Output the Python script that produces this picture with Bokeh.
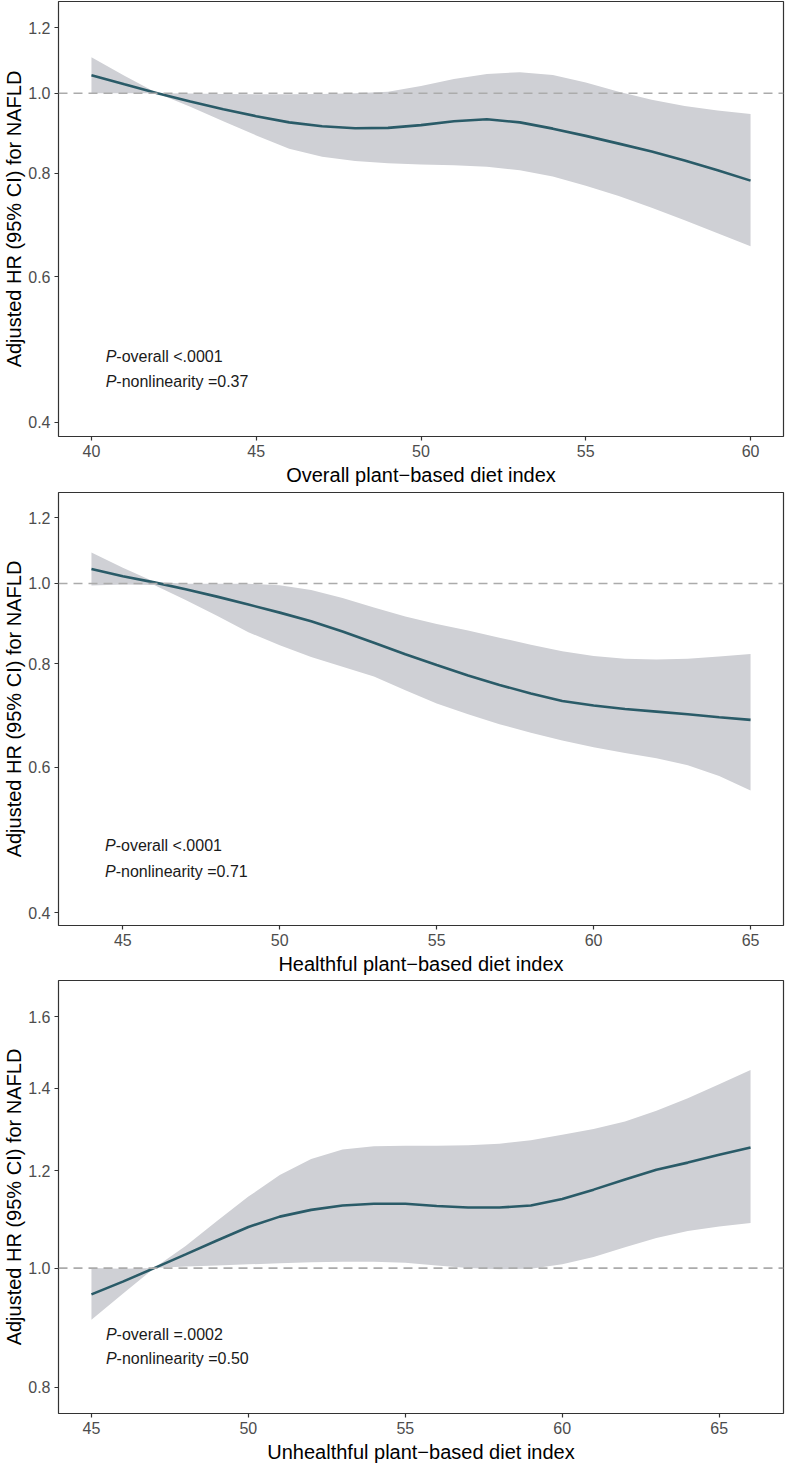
from bokeh.plotting import figure
from bokeh.models import Range1d, FixedTicker, PrintfTickFormatter, Span, ColumnDataSource
from bokeh.layouts import column
from bokeh.embed import file_html
from bokeh.resources import INLINE
from bokeh.core.properties import value

# ---------------- data ----------------
# Panel 1: Overall plant-based diet index
x_pdi = [40, 41, 42, 43, 44, 45, 46, 47, 48, 49, 50, 51, 52, 53, 54, 55, 56, 57, 58, 59, 60]
hr_pdi = [1.051, 1.025, 1.000, 0.977, 0.956, 0.938, 0.922, 0.912, 0.907, 0.908, 0.915,
          0.925, 0.930, 0.922, 0.906, 0.888, 0.869, 0.850, 0.829, 0.807, 0.784]
lo_pdi = [1.000, 1.000, 1.000, 0.963, 0.925, 0.889, 0.857, 0.838, 0.828, 0.823, 0.820,
          0.818, 0.815, 0.807, 0.793, 0.773, 0.751, 0.727, 0.702, 0.677, 0.653]
hi_pdi = [1.105, 1.050, 1.000, 0.999, 0.998, 0.997, 0.997, 0.998, 1.000, 1.004, 1.020,
          1.040, 1.055, 1.060, 1.052, 1.030, 1.004, 0.982, 0.965, 0.953, 0.944]

# Panel 2: Healthful plant-based diet index
x_hpdi = [44, 45, 46, 47, 48, 49, 50, 51, 52, 53, 54, 55, 56, 57, 58, 59, 60, 61, 62, 63, 64, 65]
hr_hpdi = [1.041, 1.020, 1.003, 0.984, 0.964, 0.943, 0.922, 0.900, 0.875, 0.848, 0.821,
           0.797, 0.774, 0.754, 0.736, 0.721, 0.712, 0.705, 0.700, 0.695, 0.689, 0.684]
lo_hpdi = [0.994, 0.997, 0.996, 0.955, 0.914, 0.873, 0.842, 0.815, 0.793, 0.772, 0.743,
           0.716, 0.695, 0.676, 0.660, 0.646, 0.634, 0.624, 0.615, 0.603, 0.585, 0.562]
hi_hpdi = [1.090, 1.045, 1.005, 0.999, 0.999, 0.999, 0.995, 0.982, 0.960, 0.935, 0.912,
           0.893, 0.877, 0.860, 0.843, 0.828, 0.817, 0.811, 0.809, 0.811, 0.816, 0.822]

# Panel 3: Unhealthful plant-based diet index
x_updi = [45, 46, 47, 48, 49, 50, 51, 52, 53, 54, 55, 56, 57, 58, 59, 60, 61, 62, 63, 64, 65, 66]
hr_updi = [0.952, 0.975, 1.000, 1.026, 1.053, 1.080, 1.101, 1.115, 1.124, 1.128, 1.128,
           1.123, 1.120, 1.120, 1.124, 1.138, 1.158, 1.180, 1.202, 1.218, 1.236, 1.253]
lo_updi = [0.908, 0.953, 1.000, 1.003, 1.005, 1.007, 1.009, 1.011, 1.012, 1.012, 1.010,
           1.005, 1.000, 0.998, 0.999, 1.007, 1.021, 1.040, 1.058, 1.072, 1.081, 1.088]
hi_updi = [1.000, 0.999, 1.000, 1.042, 1.092, 1.143, 1.190, 1.226, 1.248, 1.256, 1.257,
           1.257, 1.258, 1.262, 1.270, 1.283, 1.297, 1.315, 1.342, 1.374, 1.410, 1.448]

xticks_pdi = [40, 45, 50, 55, 60]
xticks_hpdi = [45, 50, 55, 60, 65]
xticks_updi = [45, 50, 55, 60, 65]
yticks_12 = [0.4, 0.6, 0.8, 1.0, 1.2]
yticks_3 = [0.8, 1.0, 1.2, 1.4, 1.6]

xlabels = ["Overall plant\u2212based diet index",
           "Healthful plant\u2212based diet index",
           "Unhealthful plant\u2212based diet index"]
ylabel = "Adjusted HR (95% CI) for NAFLD"
p_overall = ["-overall <.0001", "-overall <.0001", "-overall =.0002"]
p_nonlin = ["-nonlinearity =0.37", "-nonlinearity =0.71", "-nonlinearity =0.50"]

FONT = "Liberation Sans"
BAND = "#cfd0d5"
LINE = "#2a5b68"


def make_panel(x, hr, lo, hi, xr, yr, xticks, yticks, xlabel, pov, pnl, tx, ty1, ty2,
               height, btop, bbottom):
    p = figure(width=786, height=height, y_axis_type="log",
               x_range=Range1d(*xr), y_range=Range1d(*yr),
               output_backend="svg", toolbar_location=None,
               min_border_top=btop, min_border_bottom=bbottom,
               min_border_left=50, min_border_right=3)
    p.xgrid.visible = False
    p.ygrid.visible = False
    p.outline_line_color = "#333333"
    p.outline_line_width = 1.2
    p.background_fill_color = "white"
    p.border_fill_color = "white"

    src = ColumnDataSource(dict(x=x, hr=hr, lo=lo, hi=hi))
    p.varea(x="x", y1="lo", y2="hi", source=src, fill_color=BAND, fill_alpha=1.0)
    p.add_layout(Span(location=1.0, dimension="width", line_color="#ababab",
                      line_dash="9 6", line_width=1.6))
    p.line(x="x", y="hr", source=src, line_color=LINE, line_width=2.6)

    for yy, txt in ((ty1, pov), (ty2, pnl)):
        p.text(x=[tx], y=[yy], text=["P"], text_font=value(FONT), text_font_style="italic",
               text_font_size="16px", text_baseline="middle", text_color="#1a1a1a")
        p.text(x=[tx], y=[yy], text=[txt], x_offset=10.7, text_font=value(FONT),
               text_font_size="16px", text_baseline="middle", text_color="#1a1a1a")

    for ax in (p.xaxis[0], p.yaxis[0]):
        ax.axis_line_color = None
        ax.major_tick_line_color = "#333333"
        ax.major_tick_line_width = 1.2
        ax.major_tick_out = 4
        ax.major_tick_in = 0
        ax.minor_tick_line_color = None
        ax.major_label_text_font = FONT
        ax.major_label_text_font_size = "16px"
        ax.major_label_text_color = "#4d4d4d"
        ax.axis_label_text_font = FONT
        ax.axis_label_text_font_size = "20px"
        ax.axis_label_text_font_style = "normal"
        ax.axis_label_text_color = "black"
        ax.major_label_standoff = 4
    p.xaxis.ticker = FixedTicker(ticks=xticks)
    p.yaxis.ticker = FixedTicker(ticks=yticks)
    p.yaxis.formatter = PrintfTickFormatter(format="%.1f")
    p.xaxis.axis_label = xlabel
    p.yaxis.axis_label = ylabel
    p.xaxis.axis_label_standoff = 4
    p.yaxis.axis_label_standoff = 0
    return p


p1 = make_panel(x_pdi, hr_pdi, lo_pdi, hi_pdi, (39.0, 61.0), (0.3846, 1.2907),
                xticks_pdi, yticks_12, xlabels[0], p_overall[0], p_nonlin[0], 40.43, 0.481, 0.448,
                488, 1, 52)
p2 = make_panel(x_hpdi, hr_hpdi, lo_hpdi, hi_hpdi, (42.95, 66.05), (0.386, 1.288),
                xticks_hpdi, yticks_12, xlabels[1], p_overall[1], p_nonlin[1], 44.43, 0.482, 0.449,
                489, 4, 52)
p3 = make_panel(x_updi, hr_updi, lo_updi, hi_updi, (43.95, 67.05), (0.762, 1.712),
                xticks_updi, yticks_3, xlabels[2], p_overall[2], p_nonlin[2], 45.46, 0.883, 0.844,
                488, 3, 50)

layout = column(p1, p2, p3, spacing=0)
open("out.html", "w").write(file_html(layout, INLINE))
